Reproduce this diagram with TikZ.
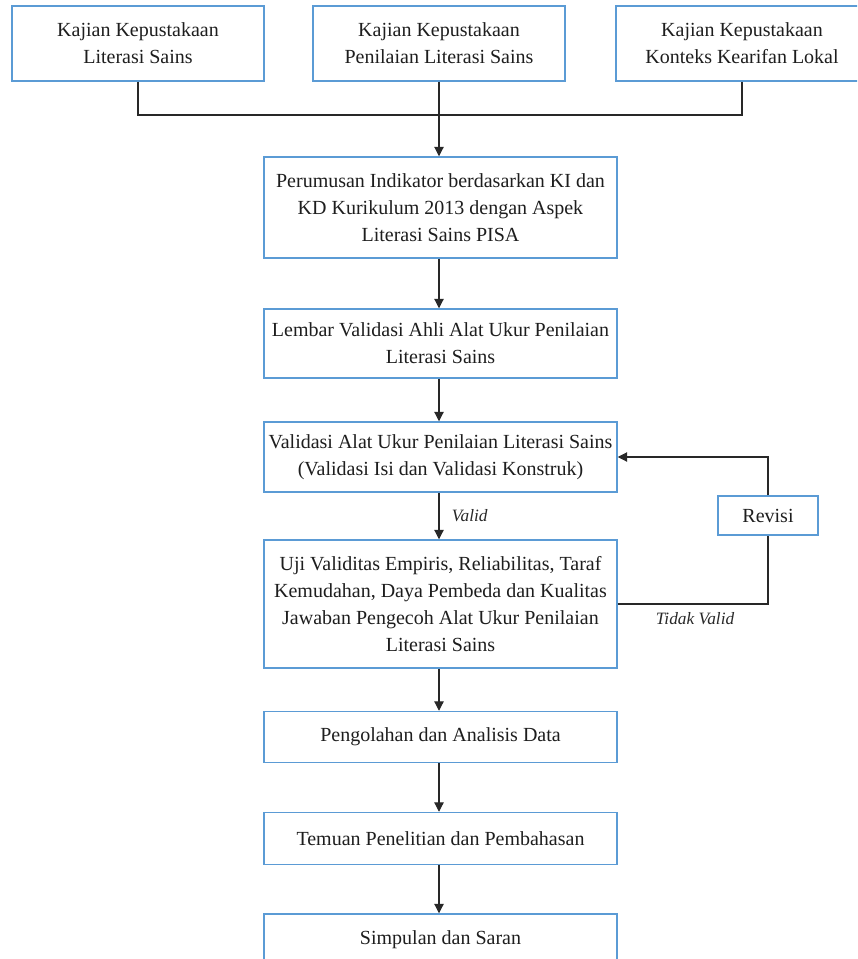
\documentclass[tikz,border=0pt]{standalone}
\usepackage{fontspec}
\setmainfont{Liberation Serif}
\usetikzlibrary{arrows.meta}
\definecolor{boxblue}{RGB}{91,155,213}
\definecolor{linegray}{RGB}{40,40,40}
\definecolor{txt}{RGB}{30,30,30}
\tikzset{
  box/.style={draw=boxblue, line width=1.1pt, fill=white, text=txt, align=center,
    inner sep=0pt, font=\fontsize{15}{20.3}\selectfont},
  topbox/.style={box, minimum width=189pt, minimum height=56.25pt},
  mainbox/.style={box, minimum width=264.75pt},
  conn/.style={draw=linegray, line width=0.8pt},
  arr/.style={conn, -{Triangle[length=7pt,width=7pt]}},
  lbl/.style={text=linegray, font=\fontsize{13}{15}\itshape}
}
\begin{document}
\begin{tikzpicture}[x=0.75pt,y=-0.75pt]
\useasboundingbox (0,0) rectangle (857,959);
\clip (0,0) rectangle (857,959);
% top row
\node[topbox] (t1) at (138,43.5) {Kajian Kepustakaan\\Literasi Sains};
\node[topbox] (t2) at (439,43.5) {Kajian Kepustakaan\\Penilaian Literasi Sains};
\node[topbox] (t3) at (742,43.5) {Kajian Kepustakaan\\Konteks Kearifan Lokal};
% main column
\node[mainbox, minimum height=75.75pt] (b1) at (440.5,207.5) {Perumusan Indikator berdasarkan KI dan\\KD Kurikulum 2013 dengan Aspek\\Literasi Sains PISA};
\node[mainbox, minimum height=51.75pt] (b2) at (440.5,343.5) {Lembar Validasi Ahli Alat Ukur Penilaian\\Literasi Sains};
\node[mainbox, minimum height=52.5pt] (b3) at (440.5,457) {Validasi Alat Ukur Penilaian Literasi Sains\\(Validasi Isi dan Validasi Konstruk)};
\node[mainbox, minimum height=96pt] (b4) at (440.5,604) {Uji Validitas Empiris, Reliabilitas, Taraf\\Kemudahan, Daya Pembeda dan Kualitas\\Jawaban Pengecoh Alat Ukur Penilaian\\Literasi Sains};
\node[mainbox, minimum height=38.25pt] (b5) at (440.5,737) {Pengolahan dan Analisis Data};
\node[mainbox, minimum height=39pt] (b6) at (440.5,838.5) {Temuan Penelitian dan Pembahasan};
\node[mainbox, minimum height=39pt] (b7) at (440.5,940) {Simpulan dan Saran};
% revisi
\node[box, minimum width=75pt, minimum height=29.25pt] (rev) at (768,515.5) {Revisi};
% connectors
\coordinate (j) at (439,115);
\draw[conn] (t1.south) |- (j);
\draw[conn] (t3.south) |- (j);
\draw[arr] (t2.south) -- (t2.south |- b1.north);
\draw[arr] (b1.south -| t2.south) -- (t2.south |- b2.north);
\draw[arr] (b2.south -| t2.south) -- (t2.south |- b3.north);
\draw[arr] (b3.south -| t2.south) -- node[lbl, right=6pt] {Valid} (t2.south |- b4.north);
\draw[arr] (b4.south -| t2.south) -- (t2.south |- b5.north);
\draw[arr] (b5.south -| t2.south) -- (t2.south |- b6.north);
\draw[arr] (b6.south -| t2.south) -- (t2.south |- b7.north);
\draw[conn] (b4.east) -| (rev.south);
\draw[arr] (rev.north) |- (b3.east);
\node[lbl] (tv) at (695,619) {Tidak Valid};
\end{tikzpicture}
\end{document}
